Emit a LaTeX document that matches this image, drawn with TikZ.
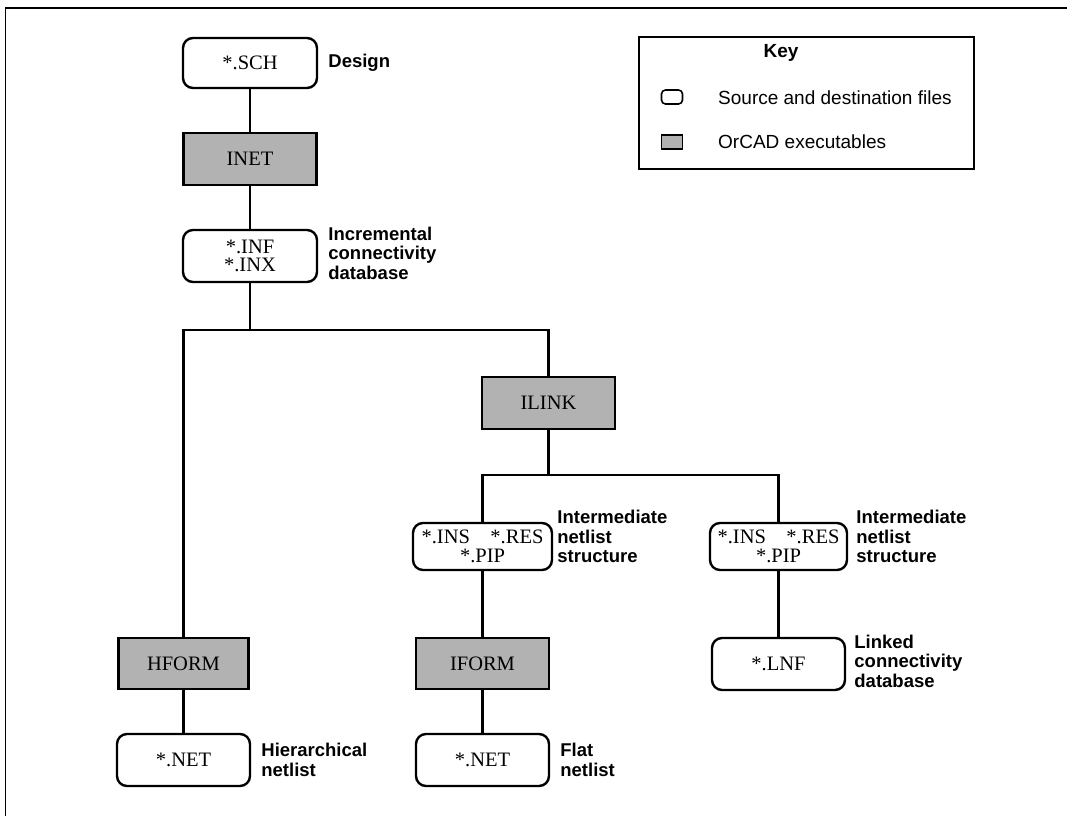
\documentclass[tikz,border=0pt]{standalone}
\usepackage{fontspec}
\setmainfont{Liberation Serif}
\setsansfont{Liberation Sans}
\begin{document}
\begin{tikzpicture}[x=1pt,y=-1pt,
  file/.style={draw, line width=2.4pt, rounded corners=10pt, minimum width=134pt, minimum height=50pt, inner sep=0pt, align=center, font=\fontsize{20.5}{18.5}\selectfont},
  exe/.style={draw, line width=2.4pt, fill=black!30, minimum width=133pt, minimum height=52pt, inner sep=0pt, font=\fontsize{20.5}{18.5}\selectfont},
  lbl/.style={anchor=west, align=left, inner sep=0pt, font=\sffamily\bfseries\fontsize{18.5}{19.5}\selectfont},
  keytxt/.style={anchor=west, inner sep=0pt, font=\sffamily\fontsize{19}{20}\selectfont},
  conn/.style={line width=2.4pt}]
\useasboundingbox (0,0) rectangle (1067,816);
% frame
\draw[line width=1.5pt] (5.5,816) -- (5.5,8) -- (1067,8);
% nodes
\node[file] (sch) at (250,63) {*.SCH};
\node[exe] (inet) at (250,159) {INET};
\node[file, minimum height=52pt] (inf) at (250,256) {*.INF\\*.INX};
\node[exe, minimum width=130pt, minimum height=51pt] (hform) at (183.5,663.5) {HFORM};
\node[file, minimum width=133pt, minimum height=52pt] (net1) at (183.5,760) {*.NET};
\node[exe] (ilink) at (548.5,403) {ILINK};
\node[file, minimum width=139pt, minimum height=47pt] (int1) at (482.5,546.5) {*.INS\hspace{1.0em}*.RES\\*.PIP};
\node[file, minimum width=137pt, minimum height=47pt] (int2) at (778.5,546.5) {*.INS\hspace{1.0em}*.RES\\*.PIP};
\node[exe, minimum height=51pt] (iform) at (482.5,663.5) {IFORM};
\node[file, minimum width=133pt, minimum height=52pt] (net2) at (482.5,760) {*.NET};
\node[file, minimum width=133pt, minimum height=52pt] (lnf) at (778.5,664) {*.LNF};
% labels
\node[lbl] (lsch) at ([xshift=10pt]sch.east) {Design};
\node[lbl] (linf) at ([xshift=10pt,yshift=3pt]inf.east) {Incremental\\connectivity\\database};
\node[lbl] (lint1) at ([xshift=4pt,yshift=10pt]int1.east) {Intermediate\\netlist\\structure};
\node[lbl] (lint2) at ([xshift=8pt,yshift=10pt]int2.east) {Intermediate\\netlist\\structure};
\node[lbl] (llnf) at ([xshift=8pt,yshift=3pt]lnf.east) {Linked\\connectivity\\database};
\node[lbl] (lnet1) at ([xshift=10pt]net1.east) {Hierarchical\\netlist};
\node[lbl] (lnet2) at ([xshift=10pt]net2.east) {Flat\\netlist};
% connectors
\coordinate (j1) at (250,330);
\coordinate (j2) at (548.5,475);
\draw[conn] (sch) -- (inet);
\draw[conn] (inet) -- (inf);
\draw[conn] (inf) -- (j1);
\draw[conn] (hform.north) |- (j1) -| (ilink.north);
\draw[conn] (hform) -- (net1);
\draw[conn] (ilink) -- (j2);
\draw[conn] (int1.north) |- (j2) -| (int2.north);
\draw[conn] (int1) -- (iform);
\draw[conn] (iform) -- (net2);
\draw[conn] (int2) -- (lnf);
% key
\node[draw, line width=2.2pt, minimum width=335pt, minimum height=132pt, anchor=north east] (key) at (975,36) {};
\node[font=\sffamily\bfseries\fontsize{19}{20}\selectfont, inner sep=0pt] (keyt) at (781,53) {Key};
\node[draw, line width=1.6pt, rounded corners=4pt, minimum width=21pt, minimum height=14pt, inner sep=0pt] (kfile) at (672,97) {};
\node[draw, line width=1.6pt, fill=black!30, minimum width=21pt, minimum height=14pt, inner sep=0pt] (kexe) at (672,142) {};
\node[keytxt] (kft) at (718,98) {Source and destination files};
\node[keytxt] (ket) at (718,142) {OrCAD executables};
\end{tikzpicture}
\end{document}
